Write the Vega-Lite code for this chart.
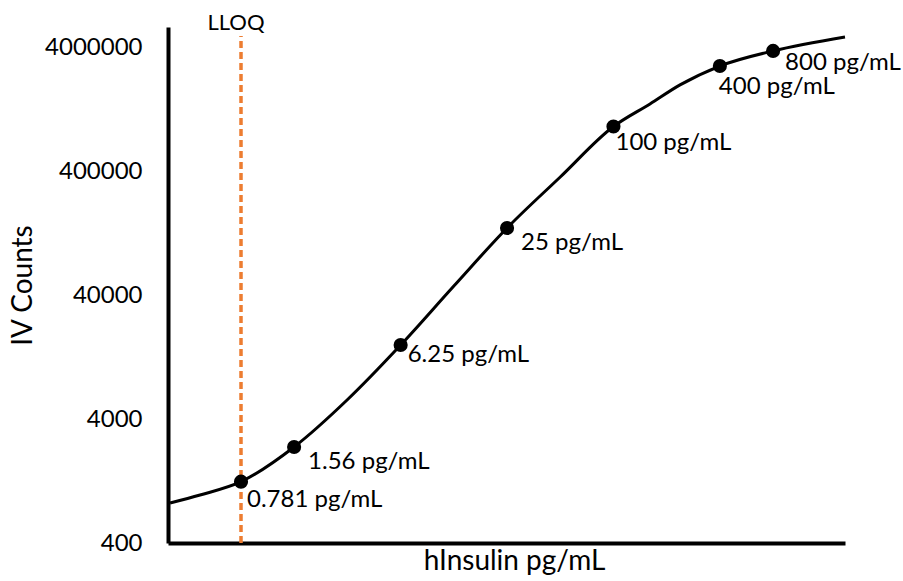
{
  "$schema": "https://vega.github.io/schema/vega-lite/v6.json",
  "width": 677,
  "height": 516,
  "autosize": "none",
  "padding": {"left": 168, "top": 27, "right": 58, "bottom": 38},
  "background": "white",
  "config": {
    "view": {"stroke": null},
    "font": "Lato",
    "axis": {"grid": false, "domainColor": "black", "domainWidth": 4, "ticks": false, "labelColor": "black", "titleColor": "black", "titleFontWeight": "normal", "labelFont": "Lato", "titleFont": "Lato", "labelFontSize": 24, "titleFontSize": 28}
  },
  "datasets": {
    "curve": [
      {"conc": 0.31, "counts": 841},
      {"conc": 0.458, "counts": 975},
      {"conc": 0.781, "counts": 1250},
      {"conc": 1.56, "counts": 2380},
      {"conc": 3.11, "counts": 5690},
      {"conc": 6.25, "counts": 15800},
      {"conc": 12.5, "counts": 47300},
      {"conc": 25, "counts": 138800},
      {"conc": 50, "counts": 358000},
      {"conc": 100, "counts": 914000},
      {"conc": 161, "counts": 1390000},
      {"conc": 238, "counts": 1980000},
      {"conc": 400, "counts": 2810000},
      {"conc": 800, "counts": 3720000},
      {"conc": 2042, "counts": 4820000}
    ],
    "points": [
      {"conc": 0.781, "counts": 1250, "label": "0.781 pg/mL"},
      {"conc": 1.56, "counts": 2380, "label": "1.56 pg/mL"},
      {"conc": 6.25, "counts": 15800, "label": "6.25 pg/mL"},
      {"conc": 25, "counts": 138800, "label": "25 pg/mL"},
      {"conc": 100, "counts": 914000, "label": "100 pg/mL"},
      {"conc": 400, "counts": 2810000, "label": "400 pg/mL"},
      {"conc": 800, "counts": 3720000, "label": "800 pg/mL"}
    ],
    "lloq": [
      {"conc": 0.781, "counts": 400, "counts2": 4900000, "label": "LLOQ", "labelCounts": 6250000}
    ]
  },
  "encoding": {
    "x": {
      "field": "conc", "type": "quantitative",
      "scale": {"type": "log", "base": 2, "domain": [0.3017, 2042], "nice": false, "zero": false},
      "axis": {"title": "hInsulin pg/mL", "labels": false, "ticks": false, "titlePadding": 4, "titleX": 346}
    },
    "y": {
      "field": "counts", "type": "quantitative",
      "scale": {"type": "log", "domain": [400, 5800000], "nice": false, "zero": false},
      "axis": {"title": "IV Counts", "values": [400, 4000, 40000, 400000, 4000000], "format": "d", "labelPadding": 26, "titlePadding": 7}
    }
  },
  "layer": [
    {
      "data": {"name": "lloq"},
      "mark": {"type": "rule", "color": "#ED7D31", "strokeWidth": 3.5, "strokeDash": [7, 4]},
      "encoding": {"y2": {"field": "counts2"}}
    },
    {
      "data": {"name": "lloq"},
      "mark": {"type": "text", "fontSize": 22, "color": "black", "align": "center", "baseline": "middle", "dx": -5},
      "encoding": {"y": {"field": "labelCounts", "type": "quantitative"}, "text": {"field": "label"}}
    },
    {
      "data": {"name": "curve"},
      "mark": {"type": "line", "color": "black", "strokeWidth": 3, "interpolate": "monotone"}
    },
    {
      "data": {"name": "points"},
      "mark": {"type": "point", "filled": true, "color": "black", "opacity": 1, "size": 200}
    },
    {
      "data": {"name": "points"},
      "transform": [{"filter": {"field": "label", "oneOf": ["0.781 pg/mL"]}}],
      "mark": {"type": "text", "fontSize": 24, "color": "black", "align": "left", "baseline": "middle", "dx": 6, "dy": 18},
      "encoding": {"text": {"field": "label"}}
    },
    {
      "data": {"name": "points"},
      "transform": [{"filter": {"field": "label", "oneOf": ["1.56 pg/mL", "25 pg/mL"]}}],
      "mark": {"type": "text", "fontSize": 24, "color": "black", "align": "left", "baseline": "middle", "dx": 14, "dy": 15},
      "encoding": {"text": {"field": "label"}}
    },
    {
      "data": {"name": "points"},
      "transform": [{"filter": {"field": "label", "oneOf": ["6.25 pg/mL"]}}],
      "mark": {"type": "text", "fontSize": 24, "color": "black", "align": "left", "baseline": "middle", "dx": 7, "dy": 10},
      "encoding": {"text": {"field": "label"}}
    },
    {
      "data": {"name": "points"},
      "transform": [{"filter": {"field": "label", "oneOf": ["100 pg/mL"]}}],
      "mark": {"type": "text", "fontSize": 24, "color": "black", "align": "left", "baseline": "middle", "dx": 2, "dy": 16},
      "encoding": {"text": {"field": "label"}}
    },
    {
      "data": {"name": "points"},
      "transform": [{"filter": {"field": "label", "oneOf": ["400 pg/mL"]}}],
      "mark": {"type": "text", "fontSize": 24, "color": "black", "align": "left", "baseline": "middle", "dx": -1, "dy": 21},
      "encoding": {"text": {"field": "label"}}
    },
    {
      "data": {"name": "points"},
      "transform": [{"filter": {"field": "label", "oneOf": ["800 pg/mL"]}}],
      "mark": {"type": "text", "fontSize": 24, "color": "black", "align": "left", "baseline": "middle", "dx": 12, "dy": 12},
      "encoding": {"text": {"field": "label"}}
    }
  ]
}
